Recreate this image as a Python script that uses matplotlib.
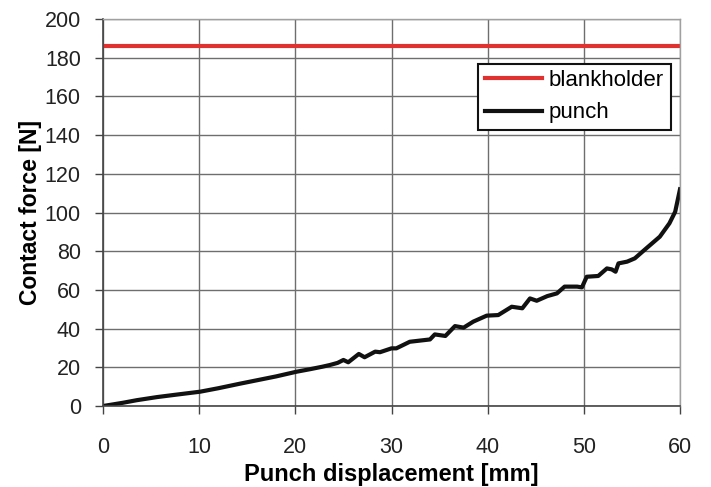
import matplotlib
matplotlib.use('Agg')
import matplotlib.pyplot as plt

# punch curve (displacement mm, force N)
punch_x = [0, 1, 2.1, 3.5, 5.6, 7.5, 10.1, 12, 14.2, 16, 18, 20.1,
           21.5, 22.8, 23.6, 24.4, 25.0, 25.5, 26.6, 27.2, 28.3, 28.8,
           30.0, 30.5, 31.9, 34.0, 34.5, 35.6, 36.6, 37.5, 38.5, 39.9,
           41.1, 42.5, 43.6, 44.4, 45.1, 46.2, 47.2, 48.0, 49.3, 49.8,
           50.3, 51.5, 52.4, 52.9, 53.3, 53.6, 54.5, 55.3, 56.5, 57.9,
           58.9, 59.5, 60.0]
punch_y = [0, 0.8, 1.7, 3.0, 4.6, 5.8, 7.4, 9.2, 11.5, 13.3, 15.3, 17.7,
           19.0, 20.3, 21.2, 22.3, 23.8, 22.6, 26.9, 25.2, 28.1, 27.8,
           29.8, 29.8, 33.2, 34.4, 37.0, 36.2, 41.3, 40.5, 43.6, 46.7,
           47.0, 51.3, 50.5, 55.6, 54.4, 56.8, 58.2, 61.7, 61.7, 61.3,
           66.8, 67.2, 71.1, 70.6, 69.4, 73.7, 74.6, 76.3, 81.5, 87.5,
           94.4, 100.4, 112.0]

blank_x = [0, 60]
blank_y = [186, 186]

plt.rcParams['font.family'] = ['Liberation Sans', 'DejaVu Sans']

fig = plt.figure(figsize=(7.11, 4.87), dpi=100)
ax = fig.add_axes([0.1449, 0.1663, 0.8115, 0.7947])

ax.plot(blank_x, blank_y, color='#e03131', linewidth=3, label='blankholder')
ax.plot(punch_x, punch_y, color='#111111', linewidth=3, label='punch')

ax.set_xlim(0, 60)
ax.set_ylim(0, 200)
ax.set_xticks(range(0, 61, 10))
ax.set_yticks(range(0, 201, 20))
ax.grid(True, color='#6e6e6e', linewidth=1)
ax.set_axisbelow(True)

for side in ['top', 'right']:
    ax.spines[side].set_color('#a0a0a0')
    ax.spines[side].set_linewidth(1)
for side in ['left', 'bottom']:
    ax.spines[side].set_color('#444444')
    ax.spines[side].set_linewidth(1.2)

ax.tick_params(direction='out', length=6, width=1, color='#444444',
               labelsize=15.5, labelcolor='#222222')
ax.tick_params(axis='y', pad=10)
ax.tick_params(axis='x', pad=16)

ax.set_xlabel('Punch displacement [mm]', fontsize=17, fontweight='bold', labelpad=4)
ax.set_ylabel('Contact force [N]', fontsize=16.5, fontweight='bold', labelpad=2)

leg = ax.legend(loc='upper right', bbox_to_anchor=(0.984, 0.885), borderaxespad=0,
                fontsize=16, fancybox=False, framealpha=1, edgecolor='#111111',
                handlelength=2.6, handletextpad=0.3, borderpad=0.3,
                labelspacing=0.5)
leg.get_frame().set_linewidth(1.5)

fig.savefig('out.png', dpi=100)
